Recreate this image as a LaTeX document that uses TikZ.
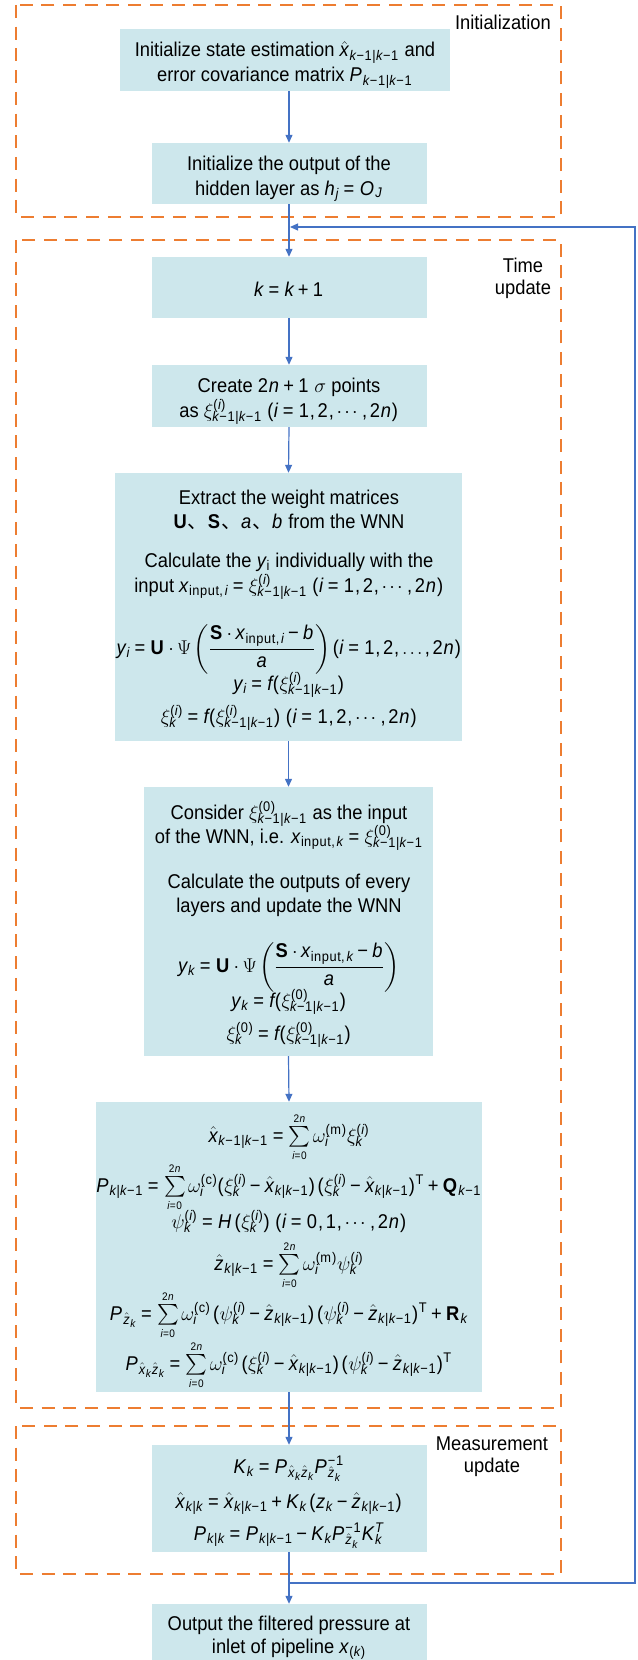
\RequirePackage{fix-cm}
\documentclass[tikz,border=0pt]{standalone}
\usepackage{fontspec}
\setmainfont[FakeStretch=0.92]{Liberation Sans}
\usepackage{amsmath}
\usepackage[italic]{mathastext}
\newfontfamily\cjk{Noto Sans CJK SC}
\usetikzlibrary{arrows.meta}
\DeclareMathSizes{20}{20}{14}{11}
\DeclareSymbolFont{txtup}{TU}{\familydefault}{m}{n}
\definecolor{boxfill}{RGB}{205,231,236}
\definecolor{dashor}{RGB}{237,125,49}
\definecolor{arrblue}{RGB}{68,114,196}
\newcommand\SupSub[2]{^{\smash[b]{#1}}_{\smash[t]{#2}}}
\newcommand\Sm{\sum\limits_{\scriptscriptstyle i=0}^{\scriptscriptstyle 2n}}
\tikzset{
  box/.style={fill=boxfill, draw=none, inner sep=0pt, anchor=center},
  txt/.style={anchor=base, inner sep=0pt, font=\fontsize{20}{25}\selectfont},
  lbl/.style={anchor=base, inner sep=0pt, font=\fontsize{20}{22}\selectfont},
  arr/.style={draw=arrblue, line width=1.2bp, -{Triangle[length=8bp,width=7bp]}},
  region/.style={draw=dashor, line width=2.5bp, dash pattern=on 13bp off 8.7bp}
}
\begin{document}
\Umathcode`0=0 \symtxtup `0\relax
\Umathcode`1=0 \symtxtup `1\relax
\Umathcode`2=0 \symtxtup `2\relax
\Umathcode`3=0 \symtxtup `3\relax
\Umathcode`4=0 \symtxtup `4\relax
\Umathcode`5=0 \symtxtup `5\relax
\Umathcode`6=0 \symtxtup `6\relax
\Umathcode`7=0 \symtxtup `7\relax
\Umathcode`8=0 \symtxtup `8\relax
\Umathcode`9=0 \symtxtup `9\relax
\Umathcode`\==3 \symtxtup `\=\relax
\Umathcode`\+=2 \symtxtup `\+\relax
\Umathcode`\-=2 \symtxtup "2212\relax
\Umathcode`\(=4 \symtxtup `\(\relax
\Umathcode`\)=5 \symtxtup `\)\relax
\Umathcode`\,=6 \symtxtup `\,\relax
\thickmuskip=4mu plus 1mu\relax
\medmuskip=3mu\relax
\thinmuskip=2mu\relax
\begin{tikzpicture}[x=1bp,y=-1bp]
\useasboundingbox (0,0) rectangle (638,1660);
% regions
\draw[region] (16,5) rectangle (561,217);
\draw[region] (16,240) rectangle (561,1408);
\draw[region] (16,1426) rectangle (561,1574);
\node[lbl, anchor=base east] (linit) at (551,30) {Initialization};
\node[lbl] (ltime1) at (523,272) {Time};
\node[lbl] (ltime2) at (523,294) {update};
\node[lbl] (lmeas1) at (492,1450) {Measurement};
\node[lbl] (lmeas2) at (492,1472) {update};
% boxes
\node[box, minimum width=330bp, minimum height=62bp] (b1) at (285,60) {};
\node[box, minimum width=275bp, minimum height=61bp] (b2) at (289,173.5) {};
\node[box, minimum width=275bp, minimum height=61bp] (b3) at (289,287.5) {};
\node[box, minimum width=275bp, minimum height=62bp] (b4) at (289,396) {};
\node[box, minimum width=347bp, minimum height=268bp] (b5) at (288.5,607) {};
\node[box, minimum width=289bp, minimum height=269bp] (b6) at (288.5,921.5) {};
\node[box, minimum width=386bp, minimum height=290bp] (b7) at (289,1247) {};
\node[box, minimum width=275bp, minimum height=107bp] (b8) at (289,1498.5) {};
\node[box, minimum width=275bp, minimum height=56bp] (b9) at (289,1632) {};
% texts
\node[txt] (t11) at (285,57) {Initialize state estimation $\hat{x}_{k-1|k-1}$ and};
\node[txt] (t12) at (285,82) {error covariance matrix $P_{k-1|k-1}$};
\node[txt] (t21) at (289,170) {Initialize the output of the};
\node[txt] (t22) at (289,195) {hidden layer as $h_j = O_J$};
\node[txt] (t31) at (289,296) {$k = k + 1$};
\node[txt] (t41) at (289,392) {Create $2n + 1$ $\sigma$ points};
\node[txt] (t42) at (289,417) {as $\xi\SupSub{(i)}{k-1|k-1}$ $(i = 1, 2, \cdots, 2n)$};
\node[txt] (t51) at (289,504) {Extract the weight matrices};
\node[txt] (t52) at (289,528) {$\mathbf{U}${\cjk 、}$\mathbf{S}${\cjk 、}$a${\cjk 、}$b$ from the WNN};
\node[txt] (t53) at (289,567) {Calculate the $y_{\mathrm{i}}$ individually with the};
\node[txt] (t54) at (289,592) {input $x_{\mathrm{input},\,i} = \xi\SupSub{(i)}{k-1|k-1}$ $(i = 1, 2, \cdots, 2n)$};
\node[txt] (t55) at (289,654) {$y_i = \mathbf{U}\cdot\Psi\left(\dfrac{\mathbf{S}\cdot x_{\mathrm{input},\,i} - b}{a}\right)(i = 1, 2, \ldots, 2n)$};
\node[txt] (t56) at (289,690) {$y_i = f(\xi\SupSub{(i)}{k-1|k-1})$};
\node[txt] (t57) at (289,723) {$\xi\SupSub{(i)}{k} = f(\xi\SupSub{(i)}{k-1|k-1})$ $(i = 1, 2, \cdots, 2n)$};
\node[txt] (t61) at (289,819) {Consider $\xi\SupSub{(0)}{k-1|k-1}$ as the input};
\node[txt] (t62) at (289,843) {of the WNN, i.e. $x_{\mathrm{input},\,k} = \xi\SupSub{(0)}{k-1|k-1}$};
\node[txt] (t63) at (289,888) {Calculate the outputs of every};
\node[txt] (t64) at (289,912) {layers and update the WNN};
\node[txt] (t65) at (289,972) {$y_k = \mathbf{U}\cdot\Psi\left(\dfrac{\mathbf{S}\cdot x_{\mathrm{input},\,k} - b}{a}\right)$};
\node[txt] (t66) at (289,1007) {$y_k = f(\xi\SupSub{(0)}{k-1|k-1})$};
\node[txt] (t67) at (289,1040) {$\xi\SupSub{(0)}{k} = f(\xi\SupSub{(0)}{k-1|k-1})$};
\node[txt] (t71) at (289,1142) {$\hat{x}_{k-1|k-1} = \Sm\omega\SupSub{(\mathrm{m})}{i}\xi\SupSub{(i)}{k}$};
\node[txt] (t72) at (289,1192) {$P_{k|k-1} = \Sm\omega\SupSub{(\mathrm{c})}{i}(\xi\SupSub{(i)}{k} - \hat{x}_{k|k-1})\,(\xi\SupSub{(i)}{k} - \hat{x}_{k|k-1})^{\mathrm{T}} + \mathbf{Q}_{k-1}$};
\node[txt] (t73) at (289,1228) {$\psi\SupSub{(i)}{k} = H\,(\xi\SupSub{(i)}{k})\ (i = 0, 1, \cdots, 2n)$};
\node[txt] (t74) at (289,1270) {$\hat{z}_{k|k-1} = \Sm\omega\SupSub{(\mathrm{m})}{i}\psi\SupSub{(i)}{k}$};
\node[txt] (t75) at (289,1320) {$P_{\hat{z}_k} = \Sm\omega\SupSub{(\mathrm{c})}{i}\,(\psi\SupSub{(i)}{k} - \hat{z}_{k|k-1})\,(\psi\SupSub{(i)}{k} - \hat{z}_{k|k-1})^{\mathrm{T}} + \mathbf{R}_k$};
\node[txt] (t76) at (289,1370) {$P_{\hat{x}_k\hat{z}_k} = \Sm\omega\SupSub{(\mathrm{c})}{i}\,(\xi\SupSub{(i)}{k} - \hat{x}_{k|k-1})\,(\psi\SupSub{(i)}{k} - \hat{z}_{k|k-1})^{\mathrm{T}}$};
\node[txt] (t81) at (289,1473) {$K_k = P_{\hat{x}_k\hat{z}_k}P\SupSub{-1}{\hat{z}_k}$};
\node[txt] (t82) at (289,1508) {$\hat{x}_{k|k} = \hat{x}_{k|k-1} + K_k\,(z_k - \hat{z}_{k|k-1})$};
\node[txt] (t83) at (289,1540) {$P_{k|k} = P_{k|k-1} - K_kP\SupSub{-1}{\hat{z}_k}K\SupSub{T}{k}$};
\node[txt] (t91) at (289,1630) {Output the filtered pressure at};
\node[txt] (t92) at (289,1653) {inlet of pipeline $x_{(k)}$};
% connectors
\draw[arr] (b2.north |- b1.south) -- (b2.north);
\draw[arr] (b2.south) -- (b3.north);
\draw[arr] (b3.south) -- (b4.north);
\draw[arr] (b4.south) -- (b5.north);
\draw[arr] (b5.south) -- (b6.north);
\draw[arr] (b6.south) -- (b7.north);
\draw[arr] (b7.south) -- (b8.north);
\draw[arr] (b8.south) -- (b9.north);
\coordinate (lbot) at (289,1583);
\coordinate (ltop) at (290,227);
\coordinate (lright) at (635,1583);
\draw[arr] (lbot) -- (lright) |- (ltop);
\end{tikzpicture}
\end{document}
